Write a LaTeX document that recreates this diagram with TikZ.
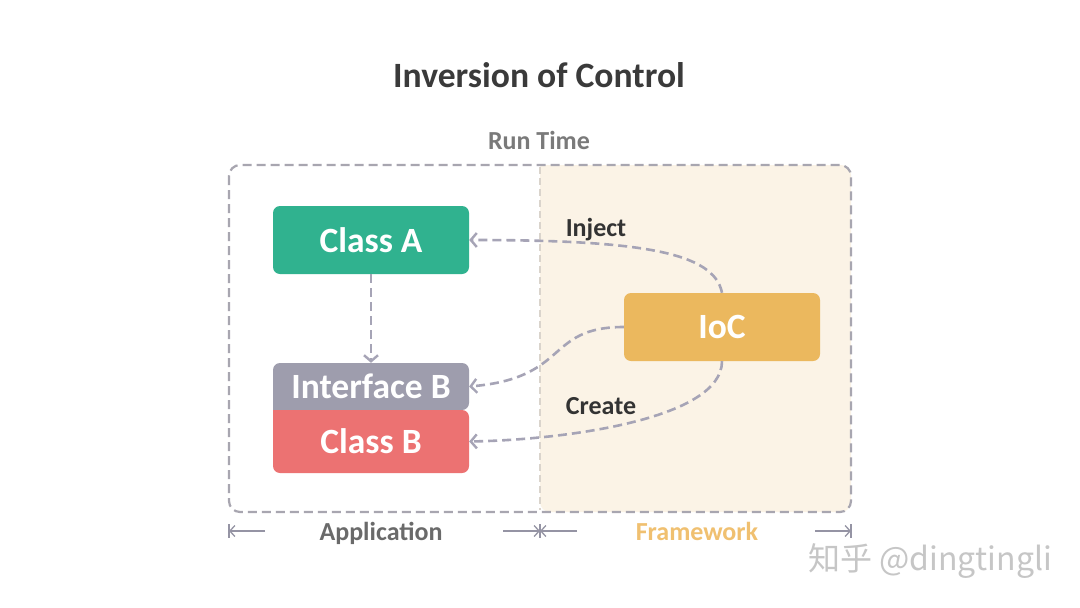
\documentclass[tikz,border=0pt]{standalone}
\usepackage{fontspec}
\setmainfont{Carlito}
\newfontfamily\cjk{Noto Sans CJK SC}
\usetikzlibrary{arrows.meta}
\definecolor{titlec}{HTML}{3A3A3A}
\definecolor{runc}{HTML}{7A7A7A}
\definecolor{framec}{HTML}{A8A6B0}
\definecolor{fwfill}{HTML}{FBF3E6}
\definecolor{divc}{HTML}{DAD4CC}
\definecolor{teal}{HTML}{30B28F}
\definecolor{ifc}{HTML}{9E9DAD}
\definecolor{clb}{HTML}{EC7272}
\definecolor{iocc}{HTML}{EBB85E}
\definecolor{arrc}{HTML}{A6A4B6}
\definecolor{labc}{HTML}{333333}
\definecolor{appc}{HTML}{6A6A6A}
\definecolor{fwc}{HTML}{F0C070}
\definecolor{wmc}{HTML}{C6C6C6}
\tikzset{
  boxfont/.style={text=white, font=\bfseries\fontsize{35.5}{38}\selectfont},
  box/.style={boxfont, rounded corners=7pt, minimum width=196pt, inner sep=0pt},
  conn/.style={draw=arrc, line width=2.6pt, dash pattern=on 9pt off 5pt, -{Straight Barb[length=6pt,width=14pt,line width=2.4pt]}},
  lab/.style={text=labc, font=\bfseries\fontsize{26}{28}\selectfont},
  span/.style={draw=arrc!90!black, line width=1.3pt},
  spantip/.style={-{Straight Barb[length=5pt,width=11pt]}},
  bottomlab/.style={font=\bfseries\fontsize{26}{28}\selectfont, anchor=base, inner sep=0pt},
}
\begin{document}
\begin{tikzpicture}[x=1pt,y=-1pt]
\useasboundingbox (0,0) rectangle (1080,608);
\fill[white] (0,0) rectangle (1080,608);
% title
\node[text=titlec, font=\bfseries\fontsize{35.6}{38}\selectfont] (title) at (539,75) {Inversion of Control};
\node[text=runc, font=\bfseries\fontsize{26}{28}\selectfont] (runtime) at (539,140) {Run Time};
% framework region
\fill[fwfill, rounded corners=10pt] (540,165) -- (851,165) -- (851,512) -- (540,512) [sharp corners] -- cycle;
\draw[divc, line width=1.5pt, dash pattern=on 7pt off 4pt] (540,167) -- (540,510);
% outer frame
\draw[framec, line width=2.2pt, dash pattern=on 9pt off 5pt, rounded corners=11pt] (229,165) rectangle (851,512);
% boxes
\node[box, fill=teal, minimum height=68pt] (classA) at (371,240) {Class A};
\fill[ifc, rounded corners=7pt] (273,410) -- (273,363) -- (469,363) -- (469,410) [sharp corners] -- cycle;
\fill[clb, rounded corners=7pt] (273,410) -- (273,473) -- (469,473) -- (469,410) [sharp corners] -- cycle;
\node[boxfont, minimum width=196pt, minimum height=47pt, inner sep=0pt] (ifB) at (371,386.5) {Interface B};
\node[boxfont, minimum width=196pt, minimum height=63pt, inner sep=0pt] (classB) at (371,441.5) {Class B};
\node[box, fill=iocc, minimum height=68pt] (ioc) at (722,327) {IoC};
% connectors
\draw[conn] (classA.south) -- (ifB.north);
\draw[conn] (ioc.north) .. controls (714,252) and (640,240) .. (classA.east);
\draw[conn] (ioc.west) .. controls (545,327) and (570,378) .. (ifB.east);
\draw[conn] (ioc.south) .. controls (722,420) and (560,440) .. (classB.east);
\node[lab] (inject) at (596,230) {Inject};
\node[lab] (create) at (601,406) {Create};
% bottom spans
\coordinate (a1) at (229,531); \coordinate (a2) at (265,531);
\coordinate (a3) at (503,531); \coordinate (a4) at (540,531);
\coordinate (a5) at (577,531); \coordinate (a6) at (815,531);
\coordinate (a7) at (851,531);
\draw[span, spantip] (a2) -- (a1);
\draw[span] (229,524) -- (229,538);
\draw[span, spantip] (a3) -- (a4);
\draw[span] (540,524) -- (540,538);
\draw[span, spantip] (a5) -- (a4);
\draw[span, spantip] (a6) -- (a7);
\draw[span] (851,524) -- (851,538);
\node[bottomlab, text=appc] (app) at (381,540) {Application};
\node[bottomlab, text=fwc] (fw) at (697,540) {Framework};
% watermark
\node[text=wmc, font=\cjk\fontsize{32}{34}\selectfont] (wm) at (930,561) {知乎 @dingtingli};
\end{tikzpicture}
\end{document}
